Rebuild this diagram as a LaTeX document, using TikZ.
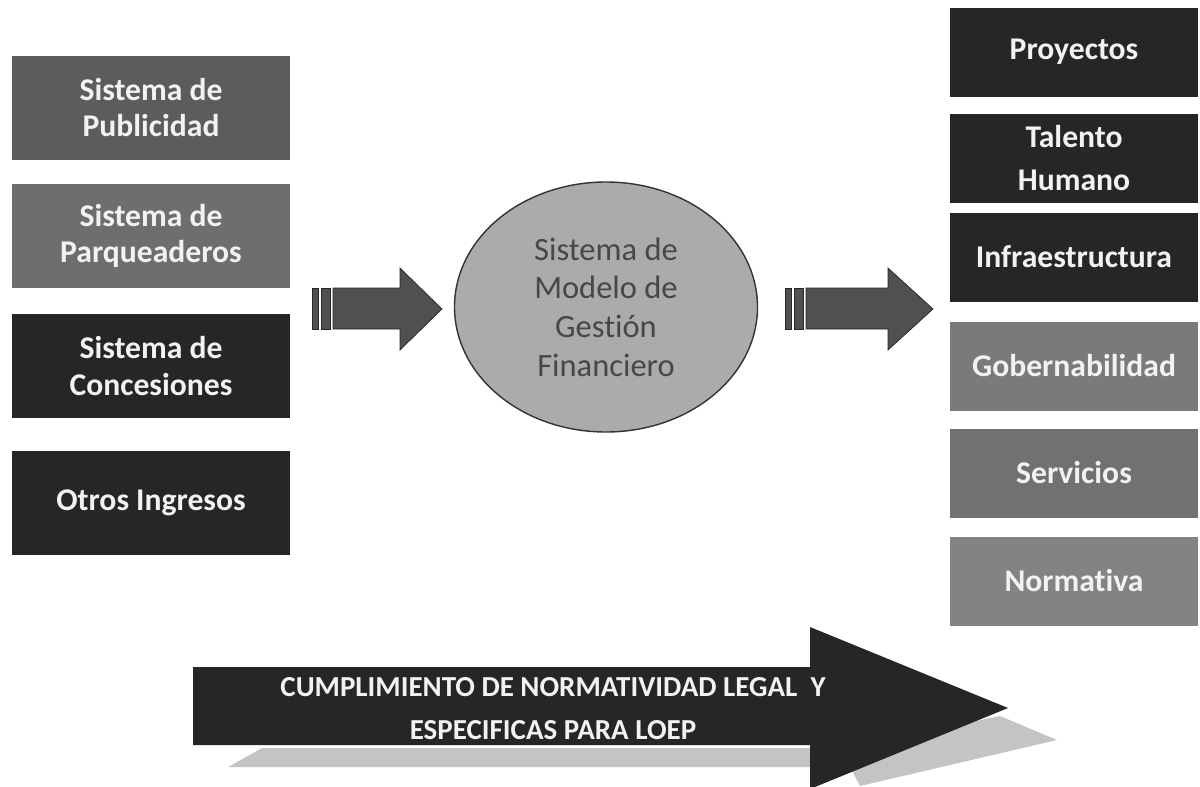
\documentclass[tikz,border=0pt]{standalone}
\usepackage{fontspec}
\setmainfont{Carlito}[Ligatures=NoCommon]
\usepackage{tikz}
\usetikzlibrary{shapes.geometric}

\definecolor{pubgray}{HTML}{5C5C5C}
\definecolor{parqgray}{HTML}{6E6E6E}
\definecolor{darkbox}{HTML}{262626}
\definecolor{govgray}{HTML}{7A7A7A}
\definecolor{servgray}{HTML}{717171}
\definecolor{normgray}{HTML}{838383}
\definecolor{ovalgray}{HTML}{ABABAB}
\definecolor{ovaltext}{HTML}{474747}
\definecolor{arrowgray}{HTML}{505050}
\definecolor{shadowgray}{HTML}{C4C4C4}

\begin{document}
\begin{tikzpicture}[x=0.2mm,y=-0.2mm]
   \useasboundingbox (0,0) rectangle (1200,786);
   \tikzstyle{inbox}=[rectangle, minimum width=5.54cm, minimum height=2.08cm, inner sep=0pt, text=white!95!black, align=center, font=\bfseries\fontsize{18}{20.5}\selectfont]
   \tikzstyle{outbox}=[rectangle, minimum width=4.96cm, minimum height=1.78cm, inner sep=0pt, text=white!95!black, align=center, font=\bfseries\fontsize{18}{20.5}\selectfont]
   \foreach \i/\y/\col/\txt in {1/108/pubgray/{Sistema de\\Publicidad},2/236/parqgray/{Sistema de\\Parqueaderos},3/366/darkbox/{Sistema de\\Concesiones},4/503/darkbox/{Otros Ingresos}} {
       \node[inbox, fill=\col] (in\i) at (151,\y) {\txt};
   }
   \node[ellipse, minimum width=6.06cm, minimum height=5cm, fill=ovalgray, draw=black!80, thick, text=ovaltext, align=center, font=\fontsize{18.5}{22}\selectfont] (modelo) at (606,307) {Sistema de\\Modelo de\\Gesti\'on\\Financiero};
   \foreach \i/\y/\col/\txt in {1/52/darkbox/{Proyectos},2/158/darkbox/{Talento\\[4pt]Humano},3/257/darkbox/{Infraestructura},4/366/govgray/{Gobernabilidad},5/473/servgray/{Servicios},6/581/normgray/{Normativa}} {
       \node[outbox, fill=\col] (out\i) at (1074,\y) {\txt};
   }
   \foreach \s/\h/\t in {312/400/442,785/888/933} {
       \filldraw[fill=arrowgray, draw=black!85] (\s,288) rectangle ++(6,41);
       \filldraw[fill=arrowgray, draw=black!85] (\s+9,288) rectangle ++(9,41);
       \filldraw[fill=arrowgray, draw=black!85] (\s+21,288) -- (\h,288) -- (\h,268) -- (\t,309) -- (\h,350) -- (\h,329) -- (\s+21,329) -- cycle;
   }
   \fill[shadowgray] (228,767) -- (262,748) -- (850,748) -- (1000,716) -- (1057,740) -- (860,786) -- (850,767) -- cycle;
   \fill[darkbox] (193,667) -- (810,667) -- (810,627) -- (1008,708) -- (810,789) -- (810,745) -- (193,745) -- cycle;
   \node[text=white!95!black, align=center, font=\bfseries\fontsize{16.5}{24.5}\selectfont] (norma) at (553,709) {CUMPLIMIENTO DE NORMATIVIDAD LEGAL~~Y\\ESPECIFICAS PARA LOEP};
\end{tikzpicture}
\end{document}
